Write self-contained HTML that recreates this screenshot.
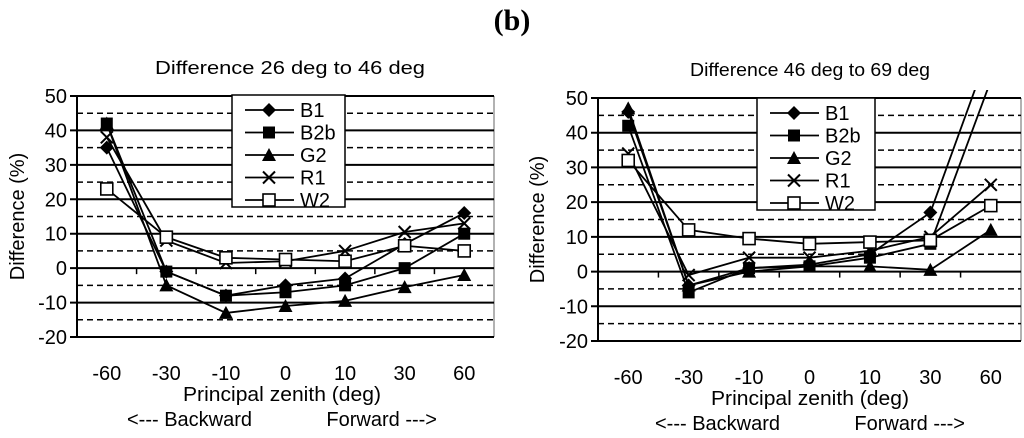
<!DOCTYPE html>
<html><head><meta charset="utf-8"><style>
body{margin:0;background:#fff;}
svg{display:block;font-family:"Liberation Sans",Arial,sans-serif;}
</style></head><body>
<svg id="s" width="1024" height="438" viewBox="0 0 1024 438">
<text x="512" y="30" text-anchor="middle" font-family="Liberation Serif,serif" font-weight="bold" font-size="30">(b)</text>
</svg>
<script>
const categories=["-60","-30","-10","0","10","30","60"];
const seriesNames=["B1","B2b","G2","R1","W2"];
const leftB1=[35,-1,-8,-5,-3,7,16];
const leftB2b=[42,-1,-8,-7,-5,0,10];
const leftG2=[42,-5,-13,-11,-9.5,-5.5,-2];
const leftR1=[38,8,1.5,2,5,10.5,13];
const leftW2=[23,9,3,2.5,2,6.5,5];
const rightB1=[46,-4,1,2,5,17,65];
const rightB2b=[42,-6,1,1.5,4,8,55];
const rightG2=[47,-4,0,1.5,1.5,0.5,12];
const rightR1=[34,-1,4,4,6,10,25];
const rightW2=[32,12,9.5,8,8.5,9,19];
const yTicks=[50,40,30,20,10,0,-10,-20];
const dashTicks=[45,35,25,15,5,-5,-15];

const NS="http://www.w3.org/2000/svg";
const svg=document.getElementById('s');
function mk(tag,attrs,parent,txt){const e=document.createElementNS(NS,tag);for(const k in attrs)e.setAttribute(k,attrs[k]);if(txt!==undefined)e.textContent=txt;(parent||svg).appendChild(e);return e;}

function chart(cfg){
  const g=mk('g',{});
  
  
  const x0=cfg.x0,x1=cfg.x1,yTop=cfg.yTop,yBot=cfg.yBot;
  const ys=v=>yTop+(50-v)*(yBot-yTop)/70;
  const bw=(x1-x0)/categories.length;
  const xs=i=>x0+bw*(i+0.5);
  const t=mk('text',{x:cfg.titleX-cfg.titleW/2,y:cfg.titleY,'font-size':18,textLength:cfg.titleW,lengthAdjust:'spacingAndGlyphs'},g,cfg.title);
  
  
  mk('line',{x1:x1,y1:yTop,x2:x1,y2:yBot,stroke:'#999','stroke-width':1.5},g);
  dashTicks.forEach(v=>{const l=mk('line',{x1:x0,y1:ys(v),x2:x1,y2:ys(v),stroke:'#000','stroke-width':1.5,'stroke-dasharray':'6,4'},g);
    
    });
  yTicks.forEach(v=>{const l=mk('line',{x1:x0-7,y1:ys(v),x2:x1,y2:ys(v),stroke:'#000','stroke-width':2},g);
    
    
    const tx=mk('text',{x:x0-10,y:ys(v)+7,'text-anchor':'end','font-size':20},g,String(v));
    
    });
  mk('line',{x1:x0,y1:yTop,x2:x0,y2:yBot,stroke:'#000','stroke-width':2},g);
  for(let i=1;i<categories.length;i++)mk('line',{x1:x0+bw*i,y1:ys(0),x2:x0+bw*i,y2:ys(0)+6,stroke:'#000','stroke-width':1.5},g);
  categories.forEach((c,i)=>{const tx=mk('text',{x:xs(i),y:cfg.catY,'text-anchor':'middle','font-size':20},g,c);
    
    });
  const xt=mk('text',{x:cfg.axX-99,y:cfg.catY+21,'font-size':20,textLength:198,lengthAdjust:'spacingAndGlyphs'},g,'Principal zenith (deg)');
  
  
  const xa=mk('text',{x:cfg.axX-155,y:cfg.catY+46,'font-size':20},g,'<--- Backward');
  
  
  const xb=mk('text',{x:cfg.axX+155,y:cfg.catY+46,'font-size':20,'text-anchor':'end'},g,'Forward --->');
  
  
  const yt=mk('text',{x:0,y:0,'text-anchor':'middle','font-size':20,transform:`translate(${cfg.yTitleX},${ys(15)}) rotate(-90)`},g,'Difference (%)');
  
  
  const cid='clip'+cfg.name;
  const cp=mk('clipPath',{id:cid},g);mk('rect',{x:x0,y:yTop-8,width:x1-x0+4,height:yBot-yTop+16},cp);
  const sg=mk('g',{'clip-path':`url(#${cid})`},g);
  cfg.data.forEach((d,si)=>{
    const pts=d.map((v,i)=>xs(i)+','+ys(v)).join(' ');
    const pl=mk('polyline',{points:pts,fill:'none',stroke:'#000','stroke-width':1.8},sg);
    
    
    d.forEach((v,i)=>{if(v>52)return;const m=marker(sg,si,xs(i),ys(v));
      
      });
  });
  const L=cfg.leg;
  const lg=mk('g',{},g);
  
  
  mk('rect',{x:L.x,y:L.y,width:L.w,height:L.h,fill:'#fff',stroke:'#000','stroke-width':1.5},lg);
  seriesNames.forEach((n,si)=>{const yy=L.y+15+si*22.5;
    const e=mk('g',{},lg);
    
    
    mk('line',{x1:L.x+13,y1:yy,x2:L.x+62,y2:yy,stroke:'#000','stroke-width':1.8},e);
    marker(e,si,L.x+37,yy);
    mk('text',{x:L.x+68,y:yy+7,'font-size':20},e,n);});
}
function marker(p,si,x,y){
  if(si===0)return mk('polygon',{points:`${x},${y-7} ${x+7},${y} ${x},${y+7} ${x-7},${y}`,fill:'#000'},p);
  if(si===1)return mk('rect',{x:x-6,y:y-6,width:12,height:12,fill:'#000'},p);
  if(si===2)return mk('polygon',{points:`${x},${y-7} ${x+7},${y+6} ${x-7},${y+6}`,fill:'#000'},p);
  if(si===3)return mk('path',{d:`M${x-6},${y-6}L${x+6},${y+6}M${x+6},${y-6}L${x-6},${y+6}`,stroke:'#000','stroke-width':2},p);
  return mk('rect',{x:x-6,y:y-6,width:12,height:12,fill:'#fff',stroke:'#000','stroke-width':1.6},p);
}
chart({name:'left-chart',x0:77,x1:494,yTop:96,yBot:337,title:'Difference 26 deg  to 46 deg',titleX:290,titleW:270,titleY:74,catY:380,axX:282,yTitleX:24,
  data:[leftB1,leftB2b,leftG2,leftR1,leftW2],leg:{x:232,y:95,w:113,h:112}});
chart({name:'right-chart',x0:598,x1:1021,yTop:98,yBot:341,title:'Difference 46 deg  to  69 deg',titleX:810,titleW:240,titleY:76,catY:384,axX:810,yTitleX:544,
  data:[rightB1,rightB2b,rightG2,rightR1,rightW2],leg:{x:757,y:98,w:118,h:112}});
</script>
</body></html>
